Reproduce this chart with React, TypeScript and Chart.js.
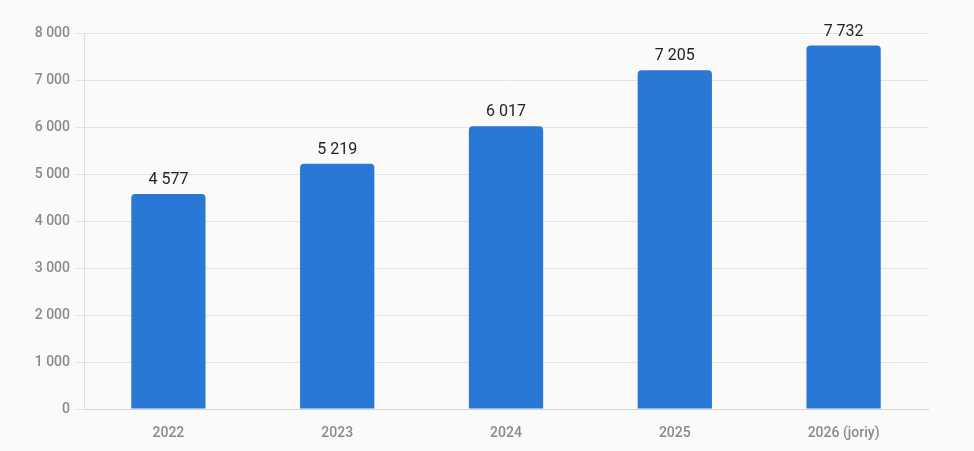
import React, { useEffect, useRef } from "react";
import { Chart, registerables } from "chart.js";

Chart.register(...registerables);

const categories = ["2022", "2023", "2024", "2025", "2026 (joriy)"];
const values = [4577, 5219, 6017, 7205, 7732];
const yTicks = [0, 1000, 2000, 3000, 4000, 5000, 6000, 7000, 8000];

const fmt = (v: number) => String(v).replace(/\B(?=(\d{3})+(?!\d))/g, " ");

const valueLabels = {
  id: "valueLabels",
  afterDatasetsDraw(chart: any) {
    const ctx = chart.ctx;
    const meta = chart.getDatasetMeta(0);
    ctx.save();
    ctx.font = "16px Roboto, Arial, sans-serif";
    ctx.fillStyle = "#222222";
    ctx.textAlign = "center";
    ctx.textBaseline = "alphabetic";
    meta.data.forEach((el: any, i: number) => {
      ctx.fillText(fmt(values[i]), el.x, el.y - 10);
    });
    ctx.restore();
  },
};

export default function App() {
  const ref = useRef<HTMLCanvasElement>(null);
  useEffect(() => {
    if (!ref.current) return;
    const chart = new Chart(ref.current, {
      type: "bar",
      data: {
        labels: categories,
        datasets: [
          {
            data: values,
            backgroundColor: "#2a78d6",
            borderRadius: { topLeft: 4, topRight: 4, bottomLeft: 0, bottomRight: 0 },
            borderSkipped: "bottom",
            categoryPercentage: 1,
            barPercentage: 0.44,
          },
        ],
      },
      options: {
        animation: false,
        responsive: false,
        maintainAspectRatio: false,
        layout: { padding: { top: 33, right: 46, left: 0, bottom: 0 } },
        plugins: { legend: { display: false }, tooltip: { enabled: false } },
        scales: {
          x: {
            grid: { display: false, drawTicks: false },
            border: { color: "#d4d4d4", width: 1 },
            ticks: {
              color: "#8a8a8a",
              font: { family: "Roboto, Arial, sans-serif", size: 14, weight: "500" },
              padding: 16,
            },
            afterFit(scale: any) {
              scale.height = 42;
            },
          },
          y: {
            min: 0,
            max: 8000,
            afterBuildTicks(scale: any) {
              scale.ticks = yTicks.map((v) => ({ value: v }));
            },
            grid: { color: "#e4e4e4", tickLength: 9, lineWidth: 1 },
            border: { color: "#dedede", width: 1 },
            ticks: {
              color: "#8a8a8a",
              font: { family: "Roboto, Arial, sans-serif", size: 14, weight: "500" },
              padding: 5,
              callback: (v: any) => fmt(Number(v)),
            },
            afterFit(scale: any) {
              scale.width = 84;
            },
          },
        },
      },
      plugins: [valueLabels],
    });
    return () => chart.destroy();
  }, []);
  return (
    <div style={{ position: "fixed", left: 0, top: 0, width: 974, height: 451, background: "#fafaf8" }}>
      <canvas ref={ref} width={974} height={451} style={{ display: "block" }} />
    </div>
  );
}
